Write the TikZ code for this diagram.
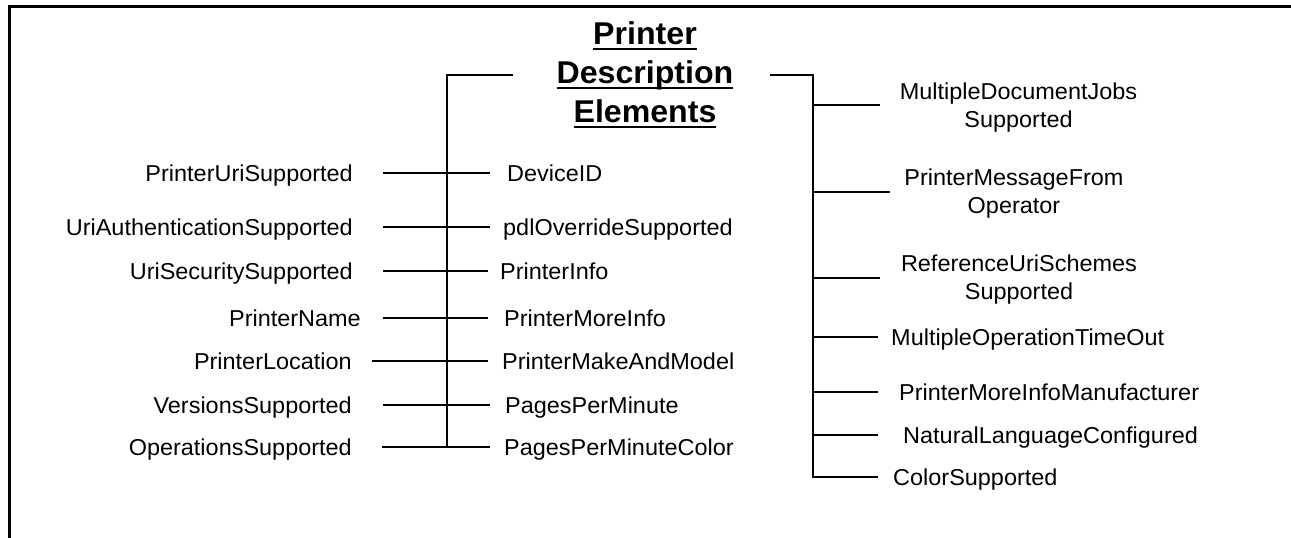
\documentclass[tikz,border=0pt]{standalone}
\usepackage{fontspec}
\setmainfont{Liberation Sans}
\newfontfamily\labelfont{Liberation Sans}[FakeStretch=1.02]
\newfontfamily\headfont{Liberation Sans}[FakeStretch=1.02]

% underline with a fixed depth below the baseline
\newsavebox\ulbox
\newcommand\ulword[1]{\sbox\ulbox{#1}\rlap{\rule[-5.6pt]{\wd\ulbox}{2.2pt}}\usebox\ulbox}

\tikzset{
  lbl/.style={font=\labelfont\fontsize{23}{28}\selectfont, inner sep=0pt,
              text height=16.5pt, text depth=0pt},
  lbltwo/.style={font=\labelfont\fontsize{23}{28}\selectfont, inner sep=0pt,
              align=center},
  head/.style={font=\headfont\bfseries\fontsize{31.5}{39}\selectfont,
              inner sep=0pt, align=center},
  wire/.style={line width=2.8pt},
  frame/.style={line width=3pt}
}

\begin{document}
\begin{tikzpicture}[x=1pt,y=-1pt]
\useasboundingbox (0,0) rectangle (1291,538);

% page frame (top and left edges)
\draw[frame] (1291,6.5) -- (9.5,6.5) -- (9.5,538);

% heading
\node[head, anchor=north] (title) at (645,21.5)
  {\ulword{Printer}\\\ulword{Description}\\\ulword{Elements}};

% ---------- left group ----------
\coordinate (lTop) at (513,75);
\coordinate (lBot) at (447,447);
\draw[wire] (lTop) -| (lBot);

\node[lbl, anchor=east] (a1) at (353,173) {PrinterUriSupported};
\node[lbl, anchor=east] (a2) at (353,227) {UriAuthenticationSupported};
\node[lbl, anchor=east] (a3) at (353,271) {UriSecuritySupported};
\node[lbl, anchor=east] (a4) at (361,318) {PrinterName};
\node[lbl, anchor=east] (a5) at (352,361) {PrinterLocation};
\node[lbl, anchor=east] (a6) at (352,405) {VersionsSupported};
\node[lbl, anchor=east] (a7) at (352,447) {OperationsSupported};

\node[lbl, anchor=west] (c1) at (507,173) {DeviceID};
\node[lbl, anchor=west] (c2) at (503,227) {pdlOverrideSupported};
\node[lbl, anchor=west] (c3) at (500,271) {PrinterInfo};
\node[lbl, anchor=west] (c4) at (504,318) {PrinterMoreInfo};
\node[lbl, anchor=west] (c5) at (502,361) {PrinterMakeAndModel};
\node[lbl, anchor=west] (c6) at (505,405) {PagesPerMinute};
\node[lbl, anchor=west] (c7) at (504,447) {PagesPerMinuteColor};

\draw[wire, shorten <=30pt, shorten >=17pt] (a1.east) -- (c1.west);
\draw[wire, shorten <=30pt, shorten >=13pt] (a2.east) -- (c2.west);
\draw[wire, shorten <=30pt, shorten >=12pt] (a3.east) -- (c3.west);
\draw[wire, shorten <=22pt, shorten >=16pt] (a4.east) -- (c4.west);
\draw[wire, shorten <=20pt, shorten >=14pt] (a5.east) -- (c5.west);
\draw[wire, shorten <=31pt, shorten >=15pt] (a6.east) -- (c6.west);
\draw[wire, shorten <=30pt, shorten >=14pt] (a7.east) -- (c7.west);

% ---------- right group ----------
\node[lbltwo] (r1) at (1018.5,107.5) {MultipleDocumentJobs\\Supported};
\node[lbltwo] (r2) at (1014,194) {PrinterMessageFrom\\Operator};
\node[lbltwo] (r3) at (1019,279.5) {ReferenceUriSchemes\\Supported};
\node[lbl, anchor=west] (r4) at (891,337) {MultipleOperationTimeOut};
\node[lbl, anchor=west] (r5) at (899,392) {PrinterMoreInfoManufacturer};
\node[lbl, anchor=west] (r6) at (903,435) {NaturalLanguageConfigured};
\node[lbl, anchor=west] (r7) at (893,477) {ColorSupported};

\coordinate (rTop) at (770,75);
\coordinate (rCorner) at (813,75);
\draw[wire, shorten >=15pt] (rTop) -- (rCorner) |- (r7.west);

\coordinate (b1) at (813,105);
\coordinate (b2) at (813,192);
\coordinate (b3) at (813,278);
\coordinate (b4) at (813,337);
\coordinate (b5) at (813,392);
\coordinate (b6) at (813,435);

\draw[wire, shorten >=20pt] (b1) -- (b1 -| r1.west);
\draw[wire, shorten >=14pt] (b2) -- (b2 -| r2.west);
\draw[wire, shorten >=21pt] (b3) -- (b3 -| r3.west);
\draw[wire, shorten >=13pt] (b4) -- (b4 -| r4.west);
\draw[wire, shorten >=21pt] (b5) -- (b5 -| r5.west);
\draw[wire, shorten >=25pt] (b6) -- (b6 -| r6.west);
\end{tikzpicture}
\end{document}
